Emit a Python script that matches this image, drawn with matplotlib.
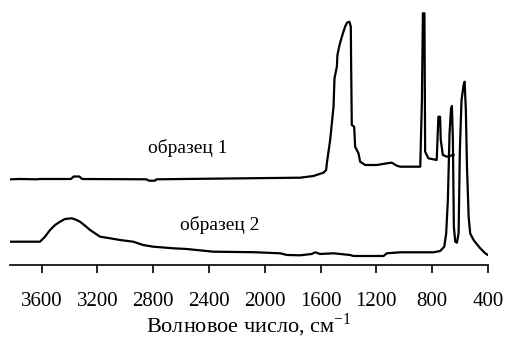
import matplotlib
matplotlib.use('Agg')
import matplotlib.pyplot as plt

plt.rcParams['font.family'] = ['Liberation Serif', 'DejaVu Serif']
plt.rcParams['mathtext.fontset'] = 'custom'
plt.rcParams['mathtext.rm'] = 'Liberation Serif'

# образец 1
wn1 = [3825, 3755, 3636, 3612, 3390, 3370, 3330, 3310, 2850, 2830, 2790, 2775,
       1747, 1651, 1579, 1560, 1555, 1531, 1519, 1507, 1500, 1483, 1479, 1464,
       1447, 1436, 1424, 1411, 1393, 1383, 1381, 1376, 1359, 1352, 1328, 1316,
       1280, 1196, 1124, 1089, 1053, 1029, 885, 873, 866, 855, 850, 827, 767,
       755, 743, 738, 723, 694, 646]
abs1 = [0.857, 0.860, 0.857, 0.860, 0.860, 0.885, 0.885, 0.860, 0.857, 0.843,
        0.843, 0.857, 0.873, 0.890, 0.923, 0.950, 1.017, 1.250, 1.417, 1.583,
        1.867, 1.983, 2.100, 2.200, 2.283, 2.333, 2.383, 2.423, 2.433, 2.383,
        2.050, 1.400, 1.383, 1.183, 1.117, 1.033, 1.000, 1.000, 1.017, 1.023,
        0.993, 0.983, 0.983, 1.650, 2.517, 2.517, 1.133, 1.067, 1.050, 1.483,
        1.483, 1.250, 1.100, 1.083, 1.100]

# образец 2
wn2 = [3825, 3612, 3576, 3540, 3504, 3468, 3433, 3385, 3361, 3325, 3289, 3253,
       3181, 3109, 3038, 2944, 2872, 2800, 2656, 2560, 2369, 2081, 1888, 1841,
       1746, 1663, 1639, 1603, 1507, 1388, 1364, 1148, 1125, 1029, 790, 742, 713,
       699, 687, 675, 665, 658, 651, 644, 634, 622, 610, 601, 589, 574, 567, 558,
       550, 538, 527, 503, 455, 419, 400]
abs2 = [0.233, 0.233, 0.283, 0.350, 0.400, 0.433, 0.460, 0.467, 0.457, 0.433,
        0.393, 0.350, 0.283, 0.267, 0.250, 0.233, 0.200, 0.183, 0.167, 0.160,
        0.133, 0.128, 0.117, 0.100, 0.097, 0.110, 0.127, 0.110, 0.117, 0.100,
        0.090, 0.090, 0.117, 0.127, 0.127, 0.140, 0.183, 0.317, 0.650, 1.317,
        1.550, 1.590, 1.250, 0.383, 0.233, 0.223, 0.317, 1.150, 1.650, 1.800,
        1.833, 1.550, 0.983, 0.483, 0.317, 0.250, 0.167, 0.117, 0.100]

ticks = [3600, 3200, 2800, 2400, 2000, 1600, 1200, 800, 400]

fig = plt.figure(figsize=(5.07, 3.40), dpi=100)
ax = fig.add_axes([0.0203, 0.2206, 0.942, 0.7794])

ax.plot(wn1, abs1, color='black', lw=1.6)
ax.plot(wn2, abs2, color='black', lw=1.6)

ax.text(2550, 1.167, 'образец 1', fontsize=14, ha='center', va='center')
ax.text(2325, 0.40, 'образец 2', fontsize=14, ha='center', va='center')

ax.set_xlim(3825, 400)
ax.set_ylim(0, 2.65)
ax.set_xticks(ticks)
ax.set_yticks([])
for s in ['left', 'top', 'right']:
    ax.spines[s].set_visible(False)
ax.spines['bottom'].set_linewidth(1.2)
ax.tick_params(axis='x', direction='out', length=5.5, width=1.2, labelsize=15, pad=14)
ax.set_xlabel('Волновое число, см$^{\\mathrm{-1}}$', fontsize=16, labelpad=0)

fig.savefig('out.png', dpi=100)
